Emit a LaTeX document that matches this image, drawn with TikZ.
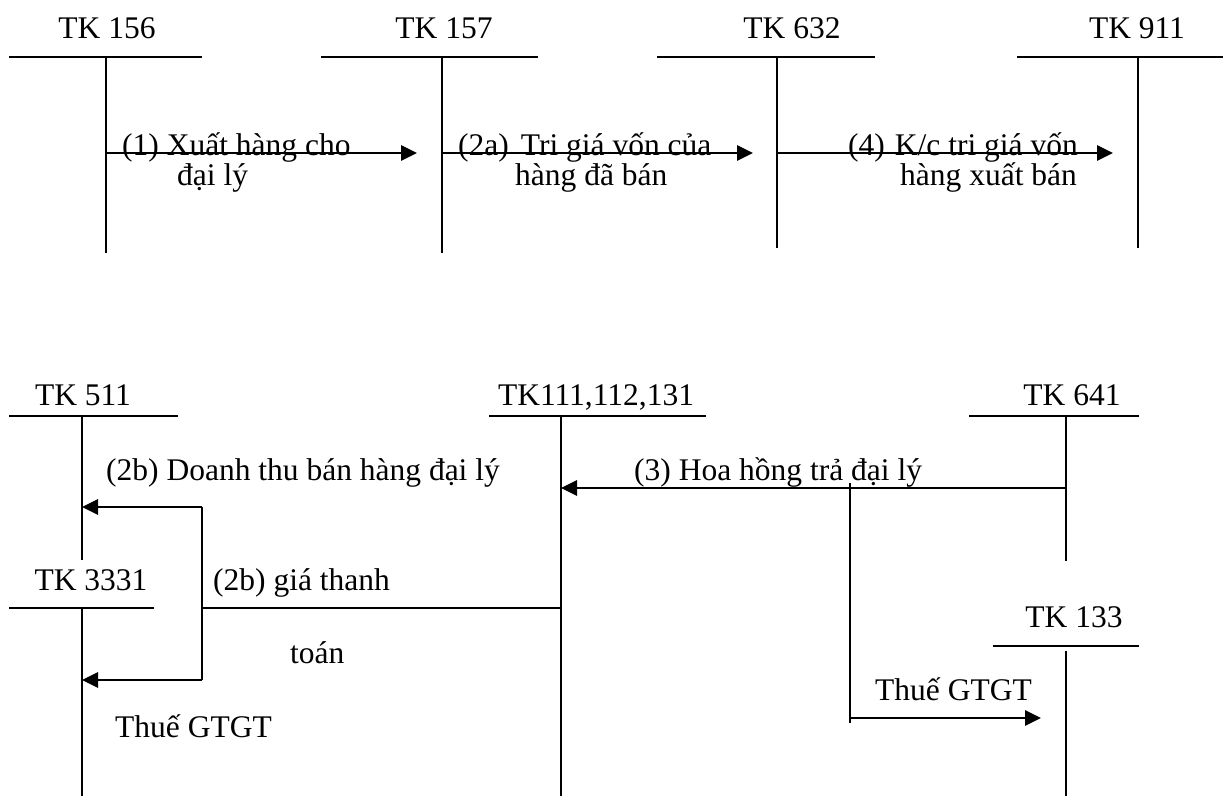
\documentclass[tikz,border=0pt]{standalone}
\usepackage{fontspec}
\setmainfont{Liberation Serif}
\usetikzlibrary{arrows.meta}
\begin{document}
\begin{tikzpicture}[x=1pt,y=-1pt,
  tline/.style={line width=2.1pt},
  arr/.style={line width=2.8pt,-{Triangle[length=16pt,width=15pt]}},
  lbl/.style={inner sep=0pt,font=\fontsize{31.5}{36}\selectfont},
  acct/.style={lbl,anchor=base},
  txt/.style={lbl,anchor=base west}]
\useasboundingbox (0,0) rectangle (1223,796);

% ---------- top T-accounts ----------
\node[acct] (l156) at (107,38) {TK 156};
\coordinate (h156a) at (9,57);   \coordinate (h156b) at (202,57);
\coordinate (v156a) at (106,57); \coordinate (v156b) at (106,253);
\draw[tline] (h156a) -- (h156b); \draw[tline] (v156a) -- (v156b);

\node[acct] (l157) at (444,38) {TK 157};
\coordinate (h157a) at (321,57); \coordinate (h157b) at (538,57);
\coordinate (v157a) at (442,57); \coordinate (v157b) at (442,253);
\draw[tline] (h157a) -- (h157b); \draw[tline] (v157a) -- (v157b);

\node[acct] (l632) at (792,38) {TK 632};
\coordinate (h632a) at (657,57); \coordinate (h632b) at (875,57);
\coordinate (v632a) at (777,57); \coordinate (v632b) at (777,248);
\draw[tline] (h632a) -- (h632b); \draw[tline] (v632a) -- (v632b);

\node[acct] (l911) at (1137,38) {TK 911};
\coordinate (h911a) at (1017,57); \coordinate (h911b) at (1223,57);
\coordinate (v911a) at (1138,57); \coordinate (v911b) at (1138,248);
\draw[tline] (h911a) -- (h911b); \draw[tline] (v911a) -- (v911b);

% top arrows
\coordinate (s1) at (106,153); \coordinate (e1) at (417,153);
\coordinate (s2) at (442,153); \coordinate (e2) at (753,153);
\coordinate (s4) at (777,153); \coordinate (e4) at (1113,153);
\draw[arr] (s1) -- (e1);
\draw[arr] (s2) -- (e2);
\draw[arr] (s4) -- (e4);

\node[txt] (t1a) at (122,155) {(1) Xuất hàng cho};
\node[txt] (t1b) at (177,185) {đại lý};
\node[txt] (t2a) at (458,155) {(2a)\hspace{12pt}Tri giá vốn của};
\node[txt] (t2b) at (515,185) {hàng đã bán};
\node[txt] (t4a) at (848,155) {(4)\hspace{10pt}K/c tri giá vốn};
\node[txt] (t4b) at (900,185) {hàng xuất bán};

% ---------- bottom T-accounts ----------
\node[acct] (l511) at (83,405) {TK 511};
\coordinate (h511a) at (9,416);  \coordinate (h511b) at (178,416);
\coordinate (v511a) at (82,416); \coordinate (v511b) at (82,560);
\draw[tline] (h511a) -- (h511b); \draw[tline] (v511a) -- (v511b);

\node[acct] (l3331) at (91,590) {TK 3331};
\coordinate (h3331a) at (9,608);  \coordinate (h3331b) at (154,608);
\coordinate (v3331a) at (82,608); \coordinate (v3331b) at (82,796);
\draw[tline] (h3331a) -- (h3331b); \draw[tline] (v3331a) -- (v3331b);

\node[acct] (l111) at (596,405) {TK111,112,131};
\coordinate (h111a) at (489,416);  \coordinate (h111b) at (706,416);
\coordinate (v111a) at (561,416);  \coordinate (v111b) at (561,796);
\draw[tline] (h111a) -- (h111b); \draw[tline] (v111a) -- (v111b);

\node[acct] (l641) at (1072,405) {TK 641};
\coordinate (h641a) at (969,416);  \coordinate (h641b) at (1139,416);
\coordinate (v641a) at (1066,416); \coordinate (v641b) at (1066,561);
\draw[tline] (h641a) -- (h641b); \draw[tline] (v641a) -- (v641b);

\node[acct] (l133) at (1074,627) {TK 133};
\coordinate (h133a) at (993,646);  \coordinate (h133b) at (1139,646);
\coordinate (v133a) at (1066,651); \coordinate (v133b) at (1066,796);
\draw[tline] (h133a) -- (h133b); \draw[tline] (v133a) -- (v133b);

% (2b) bracket
\coordinate (p111) at (561,608);
\coordinate (bm) at (202,608);
\coordinate (bt) at (202,507);
\coordinate (bb) at (202,680);
\coordinate (t511) at (82,507);
\coordinate (t3331) at (82,680);
\draw[tline] (p111) -- (bm);
\draw[tline] (bt) -- (bb);
\draw[arr] (bt) -- (t511);
\draw[arr] (bb) -- (t3331);

% (3) commission
\coordinate (p641) at (1066,488);
\coordinate (q111) at (561,488);
\draw[arr] (p641) -- (q111);
\coordinate (br1) at (850,483);
\coordinate (br2) at (850,723);
\coordinate (br3) at (850,718);
\coordinate (e133) at (1041,718);
\draw[tline] (br1) -- (br2);
\draw[arr] (br3) -- (e133);

\node[txt] (t2b1) at (106,480) {(2b) Doanh thu bán hàng đại lý};
\node[txt] (t2b2) at (213,590) {(2b) giá thanh};
\node[txt] (t2b3) at (290,663) {toán};
\node[txt] (tvat1) at (115,737) {Thuế GTGT};
\node[txt] (t3) at (634,480) {(3) Hoa hồng trả đại lý};
\node[txt] (tvat2) at (875,700) {Thuế GTGT};
\end{tikzpicture}
\end{document}
